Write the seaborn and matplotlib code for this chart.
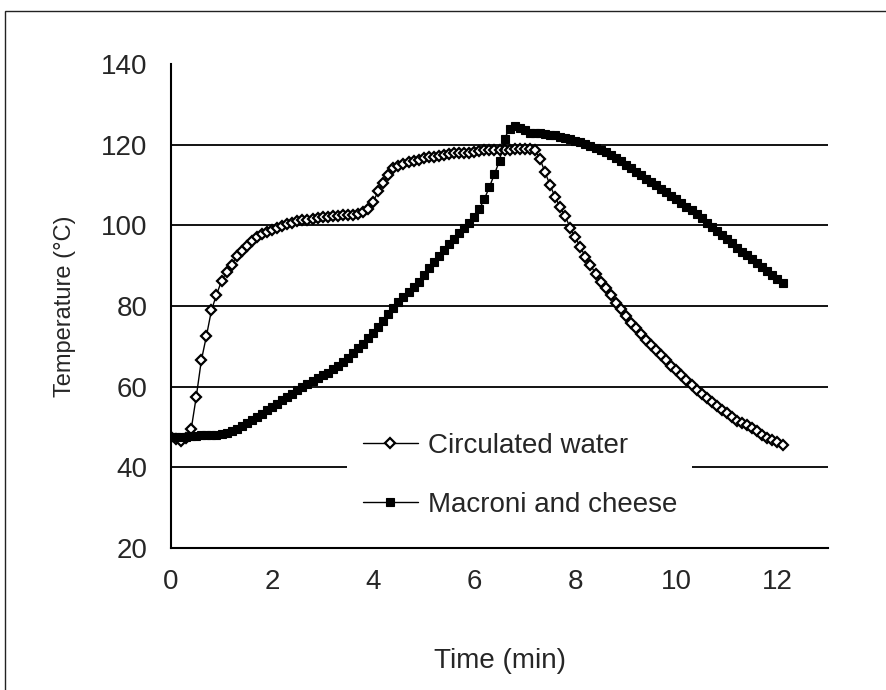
import matplotlib
matplotlib.use("Agg")
import matplotlib.pyplot as plt
import seaborn as sns
import pandas as pd
from matplotlib.patches import Rectangle

# time axis, one reading every 6 s (0.1 min)
time_min = [
    0.0, 0.1, 0.2, 0.3, 0.4, 0.5, 0.6, 0.7, 0.8, 0.9,
    1.0, 1.1, 1.2, 1.3, 1.4, 1.5, 1.6, 1.7, 1.8, 1.9,
    2.0, 2.1, 2.2, 2.3, 2.4, 2.5, 2.6, 2.7, 2.8, 2.9,
    3.0, 3.1, 3.2, 3.3, 3.4, 3.5, 3.6, 3.7, 3.8, 3.9,
    4.0, 4.1, 4.2, 4.3, 4.4, 4.5, 4.6, 4.7, 4.8, 4.9,
    5.0, 5.1, 5.2, 5.3, 5.4, 5.5, 5.6, 5.7, 5.8, 5.9,
    6.0, 6.1, 6.2, 6.3, 6.4, 6.5, 6.6, 6.7, 6.8, 6.9,
    7.0, 7.1, 7.2, 7.3, 7.4, 7.5, 7.6, 7.7, 7.8, 7.9,
    8.0, 8.1, 8.2, 8.3, 8.4, 8.5, 8.6, 8.7, 8.8, 8.9,
    9.0, 9.1, 9.2, 9.3, 9.4, 9.5, 9.6, 9.7, 9.8, 9.9,
    10.0, 10.1, 10.2, 10.3, 10.4, 10.5, 10.6, 10.7, 10.8, 10.9,
    11.0, 11.1, 11.2, 11.3, 11.4, 11.5, 11.6, 11.7, 11.8, 11.9,
    12.0, 12.1,
]

water_temp = [
    47.4, 47.0, 46.5, 47.3, 49.5, 57.5, 66.5, 72.5, 78.9, 82.8,
    86.2, 88.5, 90.2, 92.4, 93.7, 94.9, 96.1, 97.0, 97.8, 98.3,
    98.9, 99.3, 99.9, 100.4, 100.7, 101.1, 101.2, 101.4, 101.5, 101.7,
    102.0, 102.0, 102.2, 102.4, 102.6, 102.5, 102.6, 102.8, 103.3, 104.0,
    105.9, 108.4, 110.5, 112.6, 114.2, 114.7, 115.2, 115.6, 116.0, 116.3,
    116.6, 116.9, 117.0, 117.2, 117.4, 117.7, 117.9, 117.9, 117.9, 117.9,
    118.3, 118.5, 118.6, 118.7, 118.7, 118.8, 118.8, 118.8, 118.9, 118.9,
    118.9, 118.9, 118.7, 116.5, 113.2, 110.0, 107.0, 104.5, 102.2, 99.4,
    97.0, 94.6, 92.2, 90.2, 88.0, 86.0, 84.4, 82.7, 80.8, 79.2,
    77.5, 75.9, 74.5, 73.1, 71.6, 70.3, 69.2, 67.9, 66.5, 65.2,
    64.2, 62.9, 61.7, 60.4, 59.2, 58.2, 57.1, 56.1, 55.1, 54.3,
    53.4, 52.4, 51.6, 51.0, 50.5, 49.7, 48.9, 48.1, 47.2, 46.8,
    46.4, 45.6,
]

macaroni_temp = [
    47.6, 47.5, 47.5, 47.6, 47.7, 47.8, 47.9, 48.0, 48.0, 48.1,
    48.2, 48.4, 49.0, 49.6, 50.3, 51.0, 51.7, 52.4, 53.3, 54.2,
    55.0, 55.8, 56.6, 57.5, 58.3, 59.1, 59.9, 60.7, 61.4, 62.1,
    62.8, 63.5, 64.3, 65.2, 66.1, 67.1, 68.3, 69.5, 70.7, 72.0,
    73.4, 74.9, 76.3, 78.0, 79.6, 81.0, 82.3, 83.4, 84.6, 86.0,
    87.6, 89.3, 90.8, 92.3, 93.8, 95.3, 96.7, 98.1, 99.4, 100.6,
    102.0, 104.0, 106.5, 109.5, 112.7, 116.0, 121.5, 124.0, 124.6, 124.2,
    123.6, 122.9, 122.8, 122.8, 122.7, 122.5, 122.3, 122.0, 121.7, 121.3,
    121.0, 120.6, 120.2, 119.6, 119.1, 118.7, 118.1, 117.4, 116.8, 115.9,
    115.0, 114.1, 113.2, 112.4, 111.5, 110.7, 109.9, 109.0, 108.2, 107.3,
    106.5, 105.5, 104.6, 103.7, 102.7, 101.8, 100.7, 99.6, 98.6, 97.5,
    96.5, 95.5, 94.5, 93.5, 92.6, 91.6, 90.6, 89.6, 88.6, 87.6,
    86.6, 85.8,
]

x_ticks = [0, 2, 4, 6, 8, 10, 12]
y_ticks = [20, 40, 60, 80, 100, 120, 140]
grid_levels = [40, 60, 80, 100, 120]

sns.set_style("white")
plt.rcParams["font.family"] = ["Liberation Sans", "DejaVu Sans"]

df = pd.DataFrame({"time": time_min, "water": water_temp, "mac": macaroni_temp})

fig = plt.figure(figsize=(8.86, 6.90), dpi=100)
ax = fig.add_axes([171 / 886, 1 - 548 / 690, 657 / 886, 484 / 690])

for lvl in grid_levels:
    ax.axhline(lvl, color="black", lw=1.3, zorder=1)

sns.lineplot(data=df, x="time", y="water", ax=ax, color="black", lw=1.0,
             marker="D", markersize=5.5, markerfacecolor="white",
             markeredgecolor="black", markeredgewidth=1.6,
             label="Circulated water", zorder=3)
sns.lineplot(data=df, x="time", y="mac", ax=ax, color="black", lw=1.0,
             marker="s", markersize=6.2, markerfacecolor="black",
             markeredgecolor="black", markeredgewidth=0.8,
             label="Macroni and cheese", zorder=3)

ax.set_xlim(0, 13)
ax.set_ylim(20, 140)
ax.set_xticks(x_ticks)
ax.set_yticks(y_ticks)
ax.tick_params(axis="both", direction="out", length=7, width=1.3,
               color="black", labelsize=20, pad=8)
ax.tick_params(axis="y", pad=10)

for side in ["top", "right"]:
    ax.spines[side].set_visible(False)
for side in ["left", "bottom"]:
    ax.spines[side].set_color("black")
    ax.spines[side].set_linewidth(1.5)

ax.set_xlabel("Time (min)", fontsize=20, labelpad=38)
ax.set_ylabel("Temperature (°C)", fontsize=17, labelpad=18)

leg = ax.legend(loc="center", bbox_to_anchor=(0.531, 0.150), fontsize=20,
                frameon=True, fancybox=False, framealpha=1, edgecolor="none",
                facecolor="white", handlelength=2.0, handletextpad=0.35,
                labelspacing=1.2, borderpad=0.55)
leg.set_zorder(5)

# outer frame of the original figure
fig.add_artist(Rectangle((5 / 886, -0.1), 1.2, 1.1 - 10.5 / 690,
                         transform=fig.transFigure, fill=False,
                         edgecolor="#222222", lw=1.0, clip_on=False))

fig.savefig("out.png", dpi=100)
